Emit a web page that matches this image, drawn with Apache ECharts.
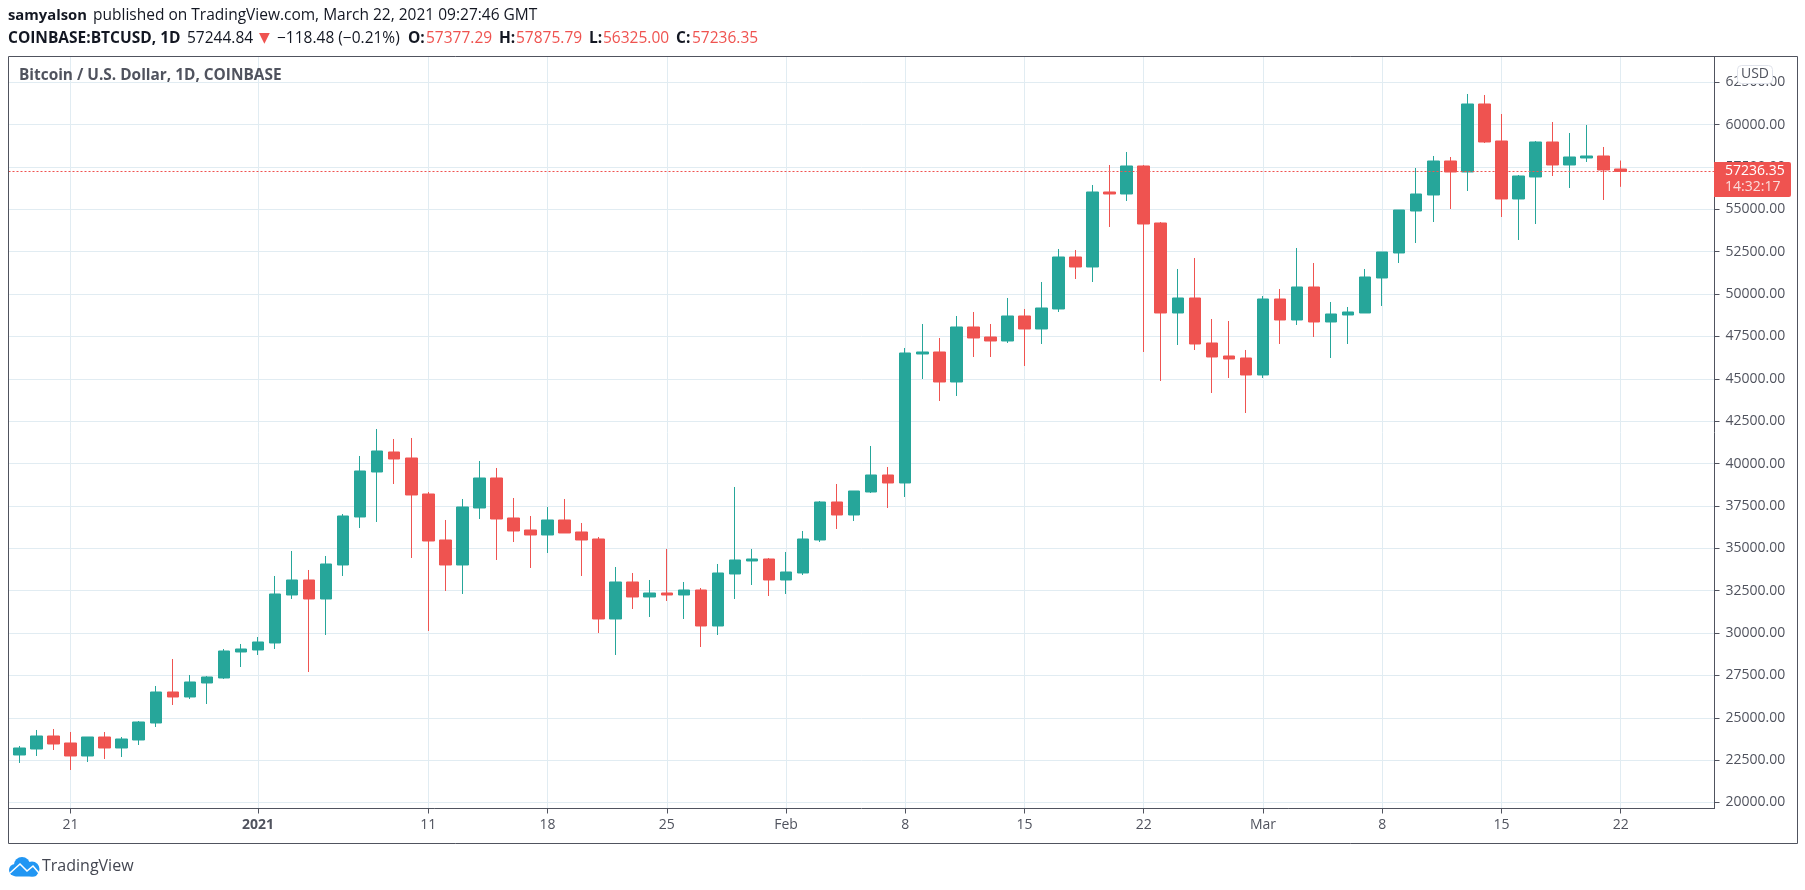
<!DOCTYPE html>
<html>
<head>
<meta charset="utf-8">
<title>BTCUSD</title>
<script src="https://cdn.jsdelivr.net/npm/echarts@6/dist/echarts.min.js"></script>
<style>
html,body{margin:0;padding:0;background:#fff;}
#chart{width:1805px;height:890px;}
</style>
</head>
<body>
<div id="chart"></div>
<script>
var FONT = '"Open Sans", sans-serif';
var GREY = '#50535e', UP = '#26a69a', DOWN = '#ef5350', GRID = '#e1ecf2';
var DAY = 86400000;
var START = Date.UTC(2020, 11, 18);

// daily open, close, low, high from Dec 18 on
var rows = [
 [22803,23216,22331,23334],[23157,23924,22744,24278],[23924,23452,23098,24337],[23511,22744,21918,24160],
 [22744,23865,22390,23865],[23865,23216,22567,24160],[23216,23747,22685,23865],[23688,24750,23393,24809],
 [24691,26520,24455,26874],[26520,26225,25753,28467],[26225,27110,26107,27523],[27051,27405,25812,27464],
 [27346,28939,27287,29057],[28880,29057,27995,29352],[28998,29470,28703,29765],[29411,32302,29057,33364],
 [32243,33128,32007,34839],[33128,32007,27700,33718],[32007,34072,29883,34544],[34013,36904,33364,37022],
 [36845,39559,36196,40444],[39500,40739,36550,42037],[40680,40267,38792,41447],[40326,38143,34426,41506],
 [38202,35429,30119,38320],[35488,34013,32479,36668],[34013,37435,32302,37907],[37376,39146,36727,40149],
 [39146,36727,34308,39736],[36786,36019,35370,37966],[36078,35783,33836,36904],[35783,36668,34721,37435],
 [36668,35901,35901,37907],[35960,35488,33364,36491],[35547,30827,30001,35665],[30827,33010,28703,33895],
 [33010,32125,31417,33541],[32125,32361,30945,33128],[32361,32243,31889,34957],[32243,32538,30827,33010],
 [32538,30414,29175,32656],[30414,33541,29883,34072],[33482,34308,32007,38615],[34249,34367,32833,34957],
 [34367,33128,32184,34426],[33128,33600,32302,34780],[33541,35547,33423,36019],[35488,37730,35370,37789],
 [37730,36963,36137,38792],[36963,38379,36609,38379],[38320,39323,38261,41034],[39323,38851,37376,39795],
 [38851,46521,38025,46816],[46462,46580,44987,48232],[46580,44810,43689,47406],[44810,48055,43984,48704],
 [48055,47406,46285,48940],[47465,47229,46285,48232],[47229,48704,47111,49766],[48704,47937,45754,49117],
 [47937,49176,47052,50710],[49117,52185,48940,52657],[52185,51595,50887,52598],[51595,56020,50710,56433],
 [56020,55902,53955,57613],[55902,57554,55489,58380],[57554,54132,46580,57613],[54191,48881,44869,54250],
 [48881,49766,46993,51477],[49766,47052,46698,52126],[47111,46285,44161,48527],[46344,46167,45046,48409],
 [46226,45223,42981,46698],[45223,49707,45046,49884],[49707,48468,47052,50297],[48468,50415,48173,52716],
 [50415,48350,47465,51831],[48350,48822,46226,49530],[48763,48940,47052,49235],[48881,51005,48881,51477],
 [50946,52480,49294,52480],[52421,54958,51831,54958],[54899,55902,53011,57436],[55843,57849,54250,58144],
 [57849,57200,55017,58085],[57200,61212,56079,61802],[61212,58970,58911,61743],[59029,55607,54545,60622],
 [55607,56964,53188,57023],[56905,58970,54132,59029],[58970,57613,56964,60150],[57613,58085,56256,59501],
 [58026,58144,57790,59973],[58144,57318,55548,58675],[57377.29,57236.35,56325,57875.79]
];
var candles = rows.map(function(r, i){ return [START + i * DAY, r[0], r[1], r[2], r[3]]; });

// the dates that carry a label and a vertical grid line
var dateLabels = [
 [2020,11,21,'21'],[2021,0,1,'2021'],[2021,0,11,'11'],[2021,0,18,'18'],[2021,0,25,'25'],
 [2021,1,1,'Feb'],[2021,1,8,'8'],[2021,1,15,'15'],[2021,1,22,'22'],
 [2021,2,1,'Mar'],[2021,2,8,'8'],[2021,2,15,'15'],[2021,2,22,'22']
];
var dateTicks = [], labelOf = {};
dateLabels.forEach(function(d){
    var t = Date.UTC(d[0], d[1], d[2]);
    dateTicks.push(t);
    labelOf[t] = d[3];
});

var priceTicks = [];
for (var p = 20000; p <= 62500; p += 2500) priceTicks.push(p);

// header text, one piece per colour
function txt(x, y, s, color, bold, size, family){
    return {type:'text', x:x, y:y, z:50, silent:true, style:{
        text:s, fill:color, fontFamily:family || FONT, fontSize:size || 15.5,
        fontWeight:bold ? 'bold' : 'normal', textVerticalAlign:'middle'
    }};
}
function blob(cx, cy, r){
    return {type:'circle', z:50, silent:true, shape:{cx:cx,cy:cy,r:r}, style:{fill:'#2196f3'}};
}
var DARK = '#131722';
var graphics = [
    {type:'rect', z:40, silent:true, shape:{x:8.5,y:56.5,width:1789,height:787}, style:{fill:'none',stroke:GREY,lineWidth:1}},
    txt(8,16,'samyalson',DARK,true,14.8),
    txt(93,16,'published on TradingView.com, March 22, 2021 09:27:46 GMT',DARK,false),
    txt(8,39,'COINBASE:BTCUSD, 1D',DARK,true),
    txt(187,39,'57244.84',DARK,false),
    txt(259,38,'▼',DOWN,false,14,'"DejaVu Sans"'),
    txt(277,39,'−118.48 (−0.21%)',DARK,false),
    txt(408,39,'O:',DARK,true),
    txt(426,39,'57377.29',DOWN,false),
    txt(499,39,'H:',DARK,true),
    txt(516,39,'57875.79',DOWN,false),
    txt(589,39,'L:',DARK,true),
    txt(603,39,'56325.00',DOWN,false),
    txt(676,39,'C:',DARK,true),
    txt(692,39,'57236.35',DOWN,false),
    txt(19,76,'Bitcoin / U.S. Dollar, 1D, COINBASE',GREY,true,15.4),
    // last price box
    {type:'rect', z:45, silent:true, shape:{x:1714,y:162,width:77,height:35,r:[0,2,2,0]}, style:{fill:DOWN}},
    txt(1725,171.5,'57236.35','#ffffff',false,14),
    txt(1725,187,'14:32:17','#fbdcdb',false,14),
    // currency badge
    {type:'rect', z:45, silent:true, shape:{x:1737.5,y:65.5,width:35,height:18,r:4}, style:{fill:'#ffffff',stroke:'#e0e3eb',lineWidth:1}},
    {type:'text', x:1755,y:74.5, z:50, silent:true, style:{text:'USD',fill:GREY,fontFamily:FONT,fontSize:14,textAlign:'center',textVerticalAlign:'middle'}},
    // footer logo
    blob(15,870,6), blob(22,865,8), blob(32,869,7.5),
    {type:'rect', z:50, silent:true, shape:{x:13,y:870,width:24,height:6.5,r:3}, style:{fill:'#2196f3'}},
    {type:'polyline', z:51, silent:true, shape:{points:[[10,873],[20,864],[27,871],[33,866],[39,873]]}, style:{stroke:'#ffffff',fill:'none',lineWidth:1.6}},
    txt(42,866,'TradingView','#434651',false,16)
];

var option = {
    backgroundColor:'#ffffff',
    animation:false,
    grid:{left:8.5, top:56.5, width:1706, height:752, show:false},
    xAxis:{
        type:'value',
        scale:true,
        min:START - 0.646 * DAY,
        max:START + 99.51 * DAY,
        axisLine:{show:true,lineStyle:{color:GREY,width:1}},
        axisTick:{show:true,length:5,lineStyle:{color:GREY,width:1},customValues:dateTicks},
        splitLine:{show:true,lineStyle:{color:GRID,width:1}},
        axisLabel:{
            customValues:dateTicks,
            margin:10,
            hideOverlap:false,
            color:GREY,
            fontFamily:FONT,
            fontSize:14,
            formatter:function(v){
                var s = labelOf[v];
                return s === '2021' ? '{b|2021}' : s;
            },
            rich:{b:{fontWeight:'bold',color:GREY,fontFamily:FONT,fontSize:14}}
        }
    },
    yAxis:{
        type:'value',
        position:'right',
        scale:true,
        min:19646,
        max:64014,
        axisLine:{show:true,lineStyle:{color:GREY,width:1}},
        axisTick:{show:true,length:5,lineStyle:{color:GREY,width:1},customValues:priceTicks},
        splitLine:{show:true,lineStyle:{color:GRID,width:1}},
        axisLabel:{
            customValues:priceTicks,
            margin:11,
            color:GREY,
            fontFamily:FONT,
            fontSize:14,
            formatter:function(v){ return v.toFixed(2); }
        }
    },
    series:[{
        type:'candlestick',
        barWidth:12,
        encode:{x:0,y:[1,2,3,4]},
        itemStyle:{color:UP,color0:DOWN,borderColor:UP,borderColor0:DOWN,borderWidth:1},
        data:candles,
        markLine:{
            silent:true,
            symbol:'none',
            animation:false,
            label:{show:false},
            lineStyle:{color:DOWN,type:[2,2],width:1.2},
            data:[{yAxis:57236.35}]
        }
    }],
    graphic:graphics
};
var myChart = echarts.init(document.getElementById('chart'));
myChart.setOption(option);
</script>
</body>
</html>
